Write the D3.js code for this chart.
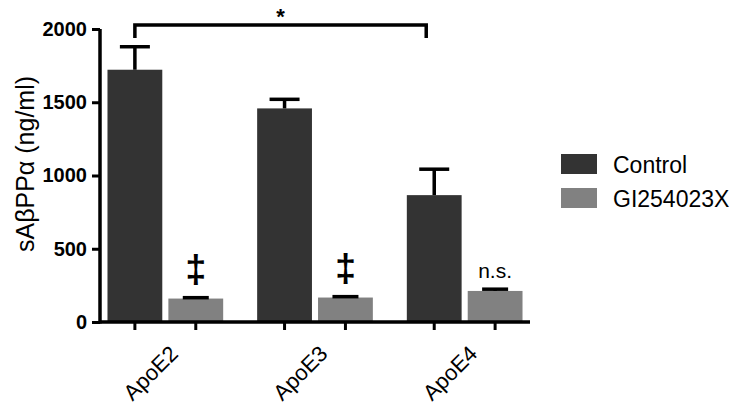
<!DOCTYPE html>
<html>
<head>
<meta charset="utf-8">
<script src="https://cdn.jsdelivr.net/npm/d3@7"></script>
<style>
  body { margin: 0; background: #fff; }
  svg text { font-family: "Liberation Sans", Arial, sans-serif; }
</style>
</head>
<body>
<div id="graf"></div>
<script>
// datos
var grupos = ['ApoE2', 'ApoE3', 'ApoE4']
var series = ['Control', 'GI254023X']
var control = [1722, 1458, 866]
var controlErr = [157, 62, 177]
var gi = [160, 167, 212]
var giErr = [6, 6, 12]
var marcas = ['‡', '‡', 'n.s.']
var yTicks = [0, 500, 1000, 1500, 2000]
var colores = ['#333333', '#818181']

var ancho_total = 741, alto_total = 408
var margins = { top: 29, left: 100, right: 211, bottom: 86 }
var ancho = ancho_total - margins.left - margins.right
var alto = alto_total - margins.top - margins.bottom

var svg = d3.select('#graf').append('svg')
    .attr('width', ancho_total)
    .attr('height', alto_total)

var g = svg.append('g')
    .attr('transform', `translate(${margins.left}, ${margins.top})`)

// Escaladores
var x0 = d3.scaleBand().domain(grupos).range([0, ancho]).paddingInner(0.227).paddingOuter(0.05)
var x1 = d3.scaleBand().domain(series).range([0, x0.bandwidth()]).paddingInner(0.1)
var y = d3.scaleLinear().domain([0, 2000]).range([alto, 0])
var color = d3.scaleOrdinal().domain(series).range(colores)

var datos = []
grupos.forEach((gr, i) => {
  datos.push({ grupo: gr, serie: 'Control', v: control[i], e: controlErr[i] })
  datos.push({ grupo: gr, serie: 'GI254023X', v: gi[i], e: giErr[i] })
})
var cx = d => x0(d.grupo) + x1(d.serie) + x1.bandwidth() / 2

// barras
g.selectAll('.barra').data(datos).enter().append('rect')
    .attr('class', 'barra')
    .attr('x', d => x0(d.grupo) + x1(d.serie))
    .attr('y', d => y(d.v))
    .attr('width', x1.bandwidth())
    .attr('height', d => alto - y(d.v))
    .attr('fill', d => color(d.serie))

// barras de error (solo superior)
var err = g.selectAll('.err').data(datos).enter().append('g').attr('class', 'err')
err.append('line')
    .attr('x1', cx).attr('x2', cx)
    .attr('y1', d => y(d.v)).attr('y2', d => y(d.v + d.e))
    .attr('stroke', '#000').attr('stroke-width', 3.5)
err.append('line')
    .attr('x1', d => cx(d) - (d.serie == 'Control' ? 15 : 13))
    .attr('x2', d => cx(d) + (d.serie == 'Control' ? 15 : 13))
    .attr('y1', d => y(d.v + d.e)).attr('y2', d => y(d.v + d.e))
    .attr('stroke', '#000').attr('stroke-width', 3.5)

// Ejes
var xAxis = g.append('g')
    .attr('transform', `translate(0, ${alto})`)
    .call(d3.axisBottom(x0).tickSize(0).tickFormat(''))
xAxis.select('.domain').attr('stroke-width', 3.5).attr('d', `M0,0H${ancho}`)
xAxis.selectAll('.tk').data(datos).enter().append('line')
    .attr('class', 'tk')
    .attr('x1', cx).attr('x2', cx).attr('y1', 0).attr('y2', 8)
    .attr('stroke', '#000').attr('stroke-width', 3)
xAxis.selectAll('.lbl').data(grupos).enter().append('text')
    .attr('class', 'lbl')
    .attr('transform', d => `translate(${x0(d) + x0.bandwidth() / 2 + 14}, 33) rotate(-45)`)
    .attr('text-anchor', 'end')
    .style('font-size', '22px')
    .attr('fill', '#000')
    .text(d => d)

var yAxis = g.append('g')
    .call(d3.axisLeft(y).tickValues(yTicks).tickFormat(d3.format('d')).tickSize(8).tickPadding(5))
yAxis.select('.domain').attr('stroke-width', 3.5).attr('d', `M0,${alto + 1.5}V0`)
yAxis.selectAll('.tick line').attr('stroke-width', 3)
yAxis.selectAll('.tick text')
    .style('font-size', '20px').style('font-weight', 'bold')
    .attr('fill', '#000')

// titulo eje y
svg.append('text')
    .attr('transform', `translate(34, 164) rotate(-90)`)
    .attr('text-anchor', 'middle')
    .style('font-size', '25px')
    .text('sAβPPα (ng/ml)')

// marcas de significancia
g.selectAll('.marca').data(grupos).enter().append('text')
    .attr('class', 'marca')
    .attr('x', (d, i) => cx({ grupo: d, serie: 'GI254023X' }))
    .attr('y', (d, i) => marcas[i] == 'n.s.' ? y(gi[i] + giErr[i]) - 11 : y(gi[i] + giErr[i]) - 16)
    .attr('text-anchor', 'middle')
    .style('font-size', (d, i) => marcas[i] == 'n.s.' ? '21px' : '38px')
    .style('font-weight', (d, i) => marcas[i] == 'n.s.' ? 'normal' : 'bold')
    .text((d, i) => marcas[i])

// corchete *
var bx1 = cx({ grupo: 'ApoE2', serie: 'Control' })
var bx2 = cx({ grupo: 'ApoE4', serie: 'Control' }) - 8
var by = y(2000) - 4
g.append('path')
    .attr('d', `M${bx1},${by + 13}V${by}H${bx2}V${by + 13}`)
    .attr('fill', 'none').attr('stroke', '#000').attr('stroke-width', 3.5)
g.append('text')
    .attr('x', (bx1 + bx2) / 2)
    .attr('y', by - 1)
    .attr('text-anchor', 'middle')
    .style('font-size', '22px').style('font-weight', 'bold')
    .text('*')

// leyenda
var ley = svg.append('g').attr('transform', 'translate(561, 154)')
series.forEach((s, i) => {
  ley.append('rect').attr('x', 0).attr('y', i * 34).attr('width', 36).attr('height', 20).attr('fill', color(s))
  ley.append('text').attr('x', 52).attr('y', i * 34 + 19).style('font-size', '23px').text(s)
})
</script>
</body>
</html>
